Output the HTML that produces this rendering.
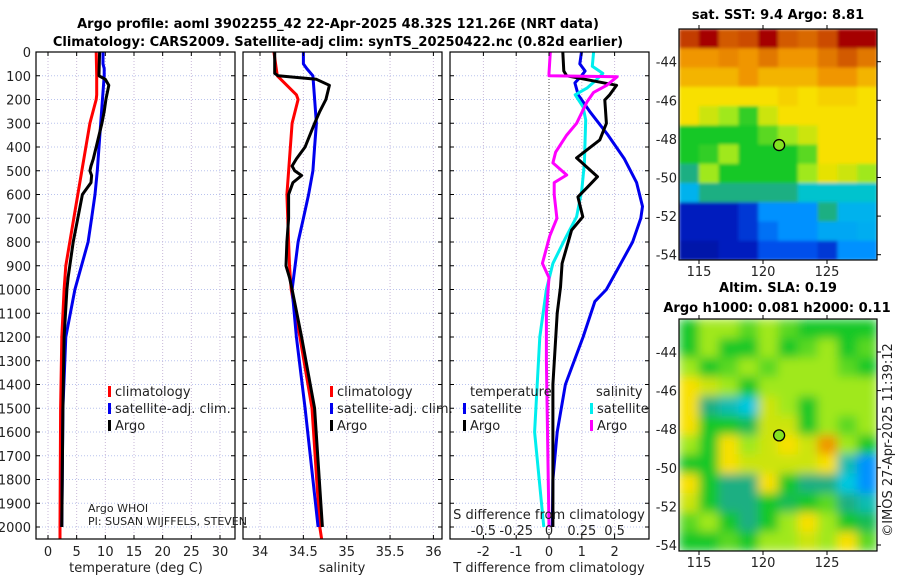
<!DOCTYPE html>
<html><head><meta charset="utf-8"><style>
html,body{margin:0;padding:0;background:#fff;}
svg{display:block;font-family:"DejaVu Sans","Liberation Sans",sans-serif;}
</style></head><body>
<svg id="chart" width="900" height="580" viewBox="0 0 900 580" xmlns="http://www.w3.org/2000/svg">
<defs><filter id="blur" x="0" y="0" width="1" height="1"><feGaussianBlur stdDeviation="5"/></filter>
<filter id="blur2" x="0" y="0" width="1" height="1"><feGaussianBlur stdDeviation="1.5"/></filter>
<clipPath id="c1"><rect x="36" y="52" width="199" height="487"/></clipPath>
<clipPath id="c2"><rect x="243" y="52" width="199" height="487"/></clipPath>
<clipPath id="c3"><rect x="450" y="52" width="199" height="487"/></clipPath>
<clipPath id="cm1"><rect x="679" y="29" width="198" height="231"/></clipPath>
<clipPath id="cm2"><rect x="679" y="319" width="198" height="232"/></clipPath>
</defs>
<text x="338" y="28" text-anchor="middle" font-size="13" font-weight="bold">Argo profile: aoml 3902255_42 22-Apr-2025 48.32S 121.26E (NRT data)</text>
<text x="338" y="46" text-anchor="middle" font-size="13" font-weight="bold">Climatology: CARS2009. Satellite-adj clim: synTS_20250422.nc (0.82d earlier)</text>
<g id="panels"></g>
<g id="maps"></g>
<text transform="translate(892,440) rotate(-90)" text-anchor="middle" font-size="13" fill="#222">©IMOS 27-Apr-2025 11:39:12</text>
</svg>
<script>
// ---------- data ----------
const depthGrid = [0,100,200,300,400,500,600,700,800,900,1000,1100,1200,1300,1400,1500,1600,1700,1800,1900,2000];
const tempTicks = [0,5,10,15,20,25,30];
const salTicks = [34,34.5,35,35.5,36];
const salTickLabels = ["34","34.5","35","35.5","36"];
const tdiffTicks = [-2,-1,0,1,2];
const sdiffTicks = [-0.5,-0.25,0,0.25,0.5];
const sdiffTickLabels = ["-0.5","-0.25","0","0.25","0.5"];

const climDepth = [0,100,180,200,300,600,800,900,1000,1200,1500,2000,2050];
const climTemp  = [8.4,8.5,8.5,8.4,7.3,5.2,3.8,3.1,2.8,2.4,2.2,2.1,2.1];
const climSal   = [34.16,34.20,34.42,34.44,34.37,34.31,34.33,34.34,34.36,34.46,34.60,34.69,34.71];

const satDepth = [0,50,70,100,300,400,500,600,700,800,1000,1200,1500,2000];
const satTemp  = [9.6,9.6,9.8,9.8,9.2,8.9,8.6,8.2,7.6,7.0,4.7,3.1,2.6,2.4];
const satSal   = [34.50,34.50,34.54,34.61,34.65,34.63,34.61,34.56,34.50,34.44,34.37,34.42,34.52,34.67];

const argoDepth = [0,90,100,115,140,200,250,300,400,450,480,500,520,550,600,700,800,900,950,1000,1200,1500,2000];
const argoTemp  = [9.0,8.9,8.9,10.0,10.6,10.1,9.8,9.4,8.4,7.9,7.5,7.3,7.6,7.5,6.0,5.2,4.4,3.8,3.5,3.3,2.8,2.6,2.4];
const argoSal   = [34.17,34.17,34.21,34.65,34.80,34.76,34.69,34.63,34.52,34.42,34.37,34.40,34.48,34.38,34.33,34.33,34.31,34.30,34.34,34.37,34.48,34.63,34.72];

const tdSatDepth = [0,50,80,100,130,180,250,350,450,550,650,700,800,900,1000,1050,1200,1400,1600,1800,2000];
const tdSat      = [0.99,0.94,1.1,0.99,0.79,0.89,1.24,1.8,2.3,2.67,2.85,2.8,2.55,2.15,1.75,1.4,1.04,0.5,0.25,0.12,0.1];
const tdArgoDepth = [0,80,100,140,180,202,300,370,446,525,568,610,694,750,890,990,1100,1400,2000];
const tdArgo      = [0.42,0.45,0.54,2.06,1.85,1.7,1.75,1.55,0.84,1.48,1.18,0.88,1.03,0.69,0.4,0.35,0.25,0.12,0.12];
const sdSatDepth = [0,60,90,118,152,180,231,286,467,581,694,790,890,1000,1200,1400,1600,2000];
const sdSat      = [0.34,0.33,0.41,0.36,0.29,0.2,0.26,0.28,0.27,0.25,0.21,0.12,0.03,-0.02,-0.07,-0.09,-0.11,-0.04];
const sdArgoDepth = [0,90,100,104,140,170,210,300,350,422,467,518,550,600,700,775,890,950,1100,1300,2000];
const sdArgo      = [0.01,0.0,0.0,0.52,0.44,0.34,0.29,0.21,0.135,0.05,0.03,0.135,0.04,0.04,0.06,0.005,-0.05,0.0,-0.02,-0.02,0.0];

// map grids (colour index 0..10: navy..blue..cyan..green..yellow..orange..dark red)
const sstGrid = [
[9.6,10,9.4,9.5,10,9.4,9.3,9.5,10,10],
[9,9,9.1,9,9.2,9,9,9.2,9.4,9.2],
[8.6,8.6,8.6,9,8.6,8.6,8.6,9,9,8.6],
[8,8,8,8,8,8.2,8,8.2,8.2,8],
[8,7.5,7,6.2,7.5,8,8,8,8,8],
[6,6,6,6,6.5,7,7.5,8,8,8],
[6,6.2,7,6,6,6,6.5,8,8,8],
[5,7,6,6,6,6,7,7.8,7.5,7],
[3.6,5,5,5,5,5,4.2,4.2,4.2,4.2],
[1,1,1,1.5,3,3,3,5,3.6,3.6],
[1,1,1,1.5,2.5,3,3,3.4,3.4,3.5],
[0.6,0.6,1,1,2,2,2,1.5,3,3]];
const slaGrid = [
[6,7,7,6.5,7,6.5,6,6,6,6],
[6,7,6,6,7,6,6.5,7,6,6.5],
[7,6,6.5,7,6.5,7,7,7,6.5,6],
[8,7.5,7,6,7,7,7,7,7,7],
[8,5,4.5,4,7.5,7,6,7,7,7],
[8,6,6,5.5,7.5,7.5,6,7,6.5,7],
[7,6,8,7,7.5,8,7.5,9,7,6],
[6,6,8,7.5,7.5,7.5,7.5,8,4.5,3],
[8,6,5,5,8,6,5,5,4,3],
[7.5,6,5,5,6,5.5,6,6.5,5,4.5],
[6.5,7,6,5,6,7,8,7,6,5.5],
[6,6,6.5,6,7,7,7.5,7,8,6.5]];
const lonTicks = [115,120,125];
const latTicks = [-44,-46,-48,-50,-52,-54];
const floatLon = 121.26, floatLat = -48.32;

// ---------- helpers ----------
const NS = "http://www.w3.org/2000/svg";
function mk(tag, attrs, parent){ const e=document.createElementNS(NS,tag); for(const k in attrs) e.setAttribute(k,attrs[k]); if(parent) parent.appendChild(e); return e; }
const yTop=52, yBot=539;
const yScale = d => 52 + d*0.2375;
const tX = v => 48 + 5.733*v;
const sX = v => 260 + 86.7*(v-34);
const dX = v => 549 + 32.8*v;
const sdX = v => 549 + 131.2*v;
const panels = document.getElementById('panels');

function frame(x0,w,name){
  const g = mk('g',{},panels);
  
  
  return g;
}
function grid(g,x0,w,xs){
  depthGrid.forEach(d=>{ const l=mk('line',{x1:x0,x2:x0+w,y1:yScale(d),y2:yScale(d),stroke:'#b9c3ee','stroke-width':1,'stroke-dasharray':'1,2'},g);
      });
  xs.forEach(x=>{ const l=mk('line',{x1:x,x2:x,y1:yTop,y2:yBot,stroke:'#c8b8d8','stroke-width':1,'stroke-dasharray':'1,2'},g);
      });
}
function ticksBox(g,x0,w,xs){
  depthGrid.forEach(d=>{ const y=yScale(d); mk('line',{x1:x0,x2:x0+4,y1:y,y2:y,stroke:'#000'},g); mk('line',{x1:x0+w-4,x2:x0+w,y1:y,y2:y,stroke:'#000'},g);});
  xs.forEach(x=>{ mk('line',{x1:x,x2:x,y1:yBot,y2:yBot-4,stroke:'#000'},g); mk('line',{x1:x,x2:x,y1:yTop,y2:yTop+4,stroke:'#000'},g);});
  const r=mk('rect',{x:x0,y:yTop,width:w,height:yBot-yTop,fill:'none',stroke:'#000','stroke-width':1.2},g);
   
}
function line(g,xs,ds,fx,color,name,clip,width){
  const pts = xs.map((v,i)=>fx(v).toFixed(1)+','+yScale(ds[i]).toFixed(1)).join(' ');
  const p=mk('polyline',{points:pts,fill:'none',stroke:color,'stroke-width':width||3,'stroke-linejoin':'round','clip-path':'url(#'+clip+')'},g);
  
  
}
function txt(g,x,y,s,opt,name){
  const t=mk('text',Object.assign({x:x,y:y,'font-size':13,fill:'#222'},opt||{}),g); t.textContent=s;
  
  
  return t;
}
function legend(g,x,y,color,label,name){
  const r=mk('rect',{x:x,y:y-10,width:3,height:11,fill:color},g);
  
  
  txt(g,x+7,y,label,{},name);
}

// Panel 1: temperature
let g=frame(36,199,'temperature-panel');
grid(g,36,199,tempTicks.map(tX));
line(g,climTemp,climDepth,tX,'#ff0000','temp-climatology-line','c1');
line(g,satTemp,satDepth,tX,'#0000ee','temp-satellite-line','c1');
line(g,argoTemp,argoDepth,tX,'#000','temp-argo-line','c1');
ticksBox(g,36,199,tempTicks.map(tX));
depthGrid.forEach(d=>txt(g,31,yScale(d)+5,String(d),{'text-anchor':'end'},'depth-tick-label'));
tempTicks.forEach(v=>txt(g,tX(v),556,String(v),{'text-anchor':'middle'},'temp-tick-label'));
txt(g,136,572,'temperature (deg C)',{'text-anchor':'middle'},'temp-axis-title');
legend(g,108,396,'#ff0000','climatology','legend-climatology');
legend(g,108,413,'#0000ee','satellite-adj. clim.','legend-satellite');
legend(g,108,430,'#000','Argo','legend-argo');
txt(g,88,512,'Argo WHOI',{'font-size':11},'argo-institution');
txt(g,88,525,'PI: SUSAN WIJFFELS, STEVEN',{'font-size':11},'argo-pi');

// Panel 2: salinity
g=frame(243,199,'salinity-panel');
grid(g,243,199,salTicks.map(sX));
line(g,climSal,climDepth,sX,'#ff0000','sal-climatology-line','c2');
line(g,satSal,satDepth,sX,'#0000ee','sal-satellite-line','c2');
line(g,argoSal,argoDepth,sX,'#000','sal-argo-line','c2');
ticksBox(g,243,199,salTicks.map(sX));
salTicks.forEach((v,i)=>txt(g,sX(v),556,salTickLabels[i],{'text-anchor':'middle'},'sal-tick-label'));
txt(g,342,572,'salinity',{'text-anchor':'middle'},'sal-axis-title');
legend(g,330,396,'#ff0000','climatology','legend-sal-climatology');
legend(g,330,413,'#0000ee','satellite-adj. clim.','legend-sal-satellite');
legend(g,330,430,'#000','Argo','legend-sal-argo');

// Panel 3: differences
g=frame(450,199,'difference-panel');
grid(g,450,199,tdiffTicks.map(dX));
const z=mk('line',{x1:dX(0),x2:dX(0),y1:yTop,y2:yBot,stroke:'#444','stroke-dasharray':'1,2'},g);
 
line(g,tdSat,tdSatDepth,dX,'#0000ee','tdiff-satellite-line','c3');
line(g,sdSat,sdSatDepth,sdX,'#00eeee','sdiff-satellite-line','c3');
line(g,tdArgo,tdArgoDepth,dX,'#000','tdiff-argo-line','c3');
line(g,sdArgo,sdArgoDepth,sdX,'#ff00ff','sdiff-argo-line','c3');
ticksBox(g,450,199,tdiffTicks.map(dX));
tdiffTicks.forEach(v=>txt(g,dX(v),556,String(v),{'text-anchor':'middle'},'tdiff-tick-label'));
txt(g,549,572,'T difference from climatology',{'text-anchor':'middle'},'tdiff-axis-title');
txt(g,549,519,'S difference from climatology',{'text-anchor':'middle'},'sdiff-axis-title');
sdiffTicks.forEach((v,i)=>txt(g,sdX(v),535,sdiffTickLabels[i],{'text-anchor':'middle'},'sdiff-tick-label'));
txt(g,470,396,'temperature',{},'legend-temperature-header');
legend(g,463,413,'#0000ee','satellite','legend-tdiff-satellite');
legend(g,463,430,'#000','Argo','legend-tdiff-argo');
txt(g,596,396,'salinity',{},'legend-salinity-header');
legend(g,590,413,'#00eeee','satellite','legend-sdiff-satellite');
legend(g,590,430,'#ff00ff','Argo','legend-sdiff-argo');

// ---------- maps ----------
const palette = [[0,0,140],[0,30,190],[0,80,235],[0,145,255],[0,200,225],[30,175,130],[20,200,40],[160,232,30],[248,224,0],[240,150,0],[165,0,0]];
function jet(v){
  const t=Math.max(0,Math.min(10,v));
  const i=Math.min(9,Math.floor(t)), f=t-i;
  const a=palette[i], b=palette[i+1];
  return 'rgb('+a.map((c,k)=>Math.round(c+(b[k]-c)*f)).join(',')+')';
}
const maps=document.getElementById('maps');
function map(grid,x0,y0,w,h,latY0,name,clip,filt,title1,title2){
  const mg=mk('g',{},maps);
  
  
  const cells=mk('g',{'clip-path':'url(#'+clip+')'},mg);
  const inner=mk('g',{filter:'url(#'+filt+')'},cells);
  const rows=grid.length, cols=grid[0].length, cw=w/cols, ch=h/rows;
  mk('rect',{x:x0,y:y0,width:w,height:h,fill:jet(grid[0][0])},inner);
  grid.forEach((row,i)=>row.forEach((v,j)=>{
    const r=mk('rect',{x:(x0+j*cw).toFixed(1),y:(y0+i*ch).toFixed(1),width:(cw+0.6).toFixed(1),height:(ch+0.6).toFixed(1),fill:jet(v)},inner);
    
    
  }));
  const lonX = lon => 699 + (lon-115)*12.8;
  const latY = lat => latY0 + (-44-lat)*19.3;
  mk('rect',{x:x0,y:y0,width:w,height:h,fill:'none',stroke:'#000','stroke-width':1.2},mg);
  lonTicks.forEach(l=>{ const x=lonX(l); mk('line',{x1:x,x2:x,y1:y0+h,y2:y0+h+4,stroke:'#000'},mg); mk('line',{x1:x,x2:x,y1:y0,y2:y0-4,stroke:'#000'},mg);
    txt(mg,x,y0+h+16,String(l),{'text-anchor':'middle'},'lon-tick-label'); });
  latTicks.forEach(l=>{ const y=latY(l); mk('line',{x1:x0+w,x2:x0+w+4,y1:y,y2:y,stroke:'#000'},mg);
    txt(mg,x0-2,y+5,String(l),{'text-anchor':'end'},'lat-tick-label'); });
  const c=mk('circle',{cx:lonX(floatLon),cy:latY(floatLat),r:5.5,fill:jet(6.8),stroke:'#000','stroke-width':1.3},mg);
  
  
  txt(mg,x0+w/2,title2?y0-27:y0-10,title1,{'text-anchor':'middle','font-weight':'bold','fill':'#000'},name+'-title');
  if(title2) txt(mg,x0+w/2-1,y0-7,title2,{'text-anchor':'middle','font-weight':'bold','fill':'#000'},name+'-subtitle');
}
map(sstGrid,679,29,198,231,61.7,'sst-map','cm1','blur2','sat. SST: 9.4 Argo: 8.81',null);
map(slaGrid,679,319,198,232,352,'sla-map','cm2','blur','Altim. SLA: 0.19','Argo h1000: 0.081 h2000: 0.11');
</script>
</body></html>
